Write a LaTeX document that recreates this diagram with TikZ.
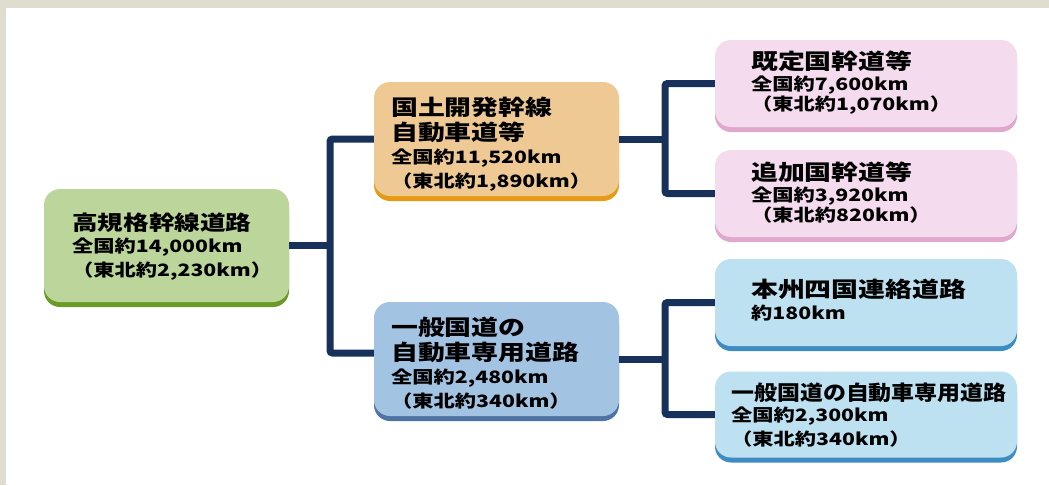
\documentclass[tikz,border=0pt]{standalone}
\usepackage{fontspec}
\usetikzlibrary{shadows}
\newfontfamily\jp[FakeStretch=1.25]{Noto Sans CJK JP}
\newfontfamily\jpn[FakeStretch=1.12]{Noto Sans CJK JP}
\definecolor{bordc}{HTML}{DFDDD0}
\definecolor{gfill}{HTML}{BCD59A}
\definecolor{gshad}{HTML}{6A9B28}
\definecolor{ofill}{HTML}{EEC993}
\definecolor{oshad}{HTML}{E89A12}
\definecolor{pfill}{HTML}{F4DBEE}
\definecolor{pshad}{HTML}{E0A8CD}
\definecolor{mfill}{HTML}{A3C3E3}
\definecolor{mshad}{HTML}{4E74A6}
\definecolor{lfill}{HTML}{BDE1F1}
\definecolor{lshad}{HTML}{3E8DC2}
\definecolor{conc}{HTML}{17315B}
\newcommand\jhead{\fontsize{21.5}{20}\selectfont}
\newcommand\jheadg{\fontsize{20.5}{20}\selectfont}
\newcommand\jsub{\fontsize{17}{20}\selectfont}
\begin{document}
\begin{tikzpicture}[x=1pt,y=-1pt,
  boxnode/.style n args={4}{draw=none, fill=#1, rounded corners=16pt, inner sep=0pt,
     minimum width=#3, minimum height=#4,
     general shadow={fill=#2, shadow yshift=-5pt, shadow xshift=0pt}},
  txt/.style={anchor=north west, inner sep=0pt, align=left, text=black,
     font={\jp\bfseries\fontsize{17}{#1}\selectfont}},
  conn/.style={draw=conc, line width=7pt, rounded corners=2.5pt}]
\useasboundingbox (0,0) rectangle (1049,485);
\fill[bordc] (0,0) rectangle (1049,8);
\fill[bordc] (0,0) rectangle (6,485);
% boxes
\node[boxnode={gfill}{gshad}{245pt}{113pt}] (G) at (166.5,245.5) {};
\node[boxnode={ofill}{oshad}{245pt}{114pt}] (O) at (496.5,139) {};
\node[boxnode={mfill}{mshad}{245pt}{114pt}] (M) at (496.5,359) {};
\node[boxnode={pfill}{pshad}{302pt}{87pt}] (P1) at (866,83.5) {};
\node[boxnode={pfill}{pshad}{302pt}{87pt}] (P2) at (866,193.5) {};
\node[boxnode={lfill}{lshad}{302pt}{87pt}] (B1) at (866,302.5) {};
\node[boxnode={lfill}{lshad}{302pt}{86pt}] (B2) at (866,414.5) {};
% junction coordinates
\coordinate (t1) at (330,0);
\coordinate (t2) at (665,0);
% connectors
\draw[conn] (G.east) -- (G.east -| t1);
\draw[conn] (O.west) -- (O.west -| t1) -- ([yshift=6pt]M.west -| t1) -- ([yshift=6pt]M.west);
\draw[conn] (O.east) -- (O.east -| t2);
\draw[conn] (P1.west) -- (P1.west -| t2) -- (P2.west -| t2) -- (P2.west);
\draw[conn] (M.east) -- (M.east -| t2);
\draw[conn] (B1.west) -- (B1.west -| t2) -- (B2.west -| t2) -- (B2.west);
% texts
\node[txt=23] (Gt) at (72,213) {\jheadg 高規格幹線道路\\[-1pt]\jsub 全国約14,000km\\[1pt]（東北約2,230km）};
\node[txt=24] (Ot) at (391,97) {\jhead 国土開発幹線\\[1pt]\jhead 自動車道等\\[-1pt]\jsub 全国約11,520km\\（東北約1,890km）};
\node[txt=24] (Mt) at (391,317) {\jhead 一般国道の\\[1pt]\jhead 自動車専用道路\\[-1pt]\jsub 全国約2,480km\\（東北約340km）};
\node[txt=21] (P1t) at (751,51) {\jhead 既定国幹道等\\\jsub 全国約7,600km\\[-1pt]（東北約1,070km）};
\node[txt=21] (P2t) at (751,162) {\jhead 追加国幹道等\\\jsub 全国約3,920km\\[-1pt]（東北約820km）};
\node[txt=22] (B1t) at (751,279) {\jhead 本州四国連絡道路\\\jsub 約180km};
\node[txt=22.5] (B2t) at (731,383) {\jpn\jheadg 一般国道の自動車専用道路\\[-1.5pt]\jp\jsub 全国約2,300km\\[1.5pt]（東北約340km）};
\end{tikzpicture}
\end{document}
